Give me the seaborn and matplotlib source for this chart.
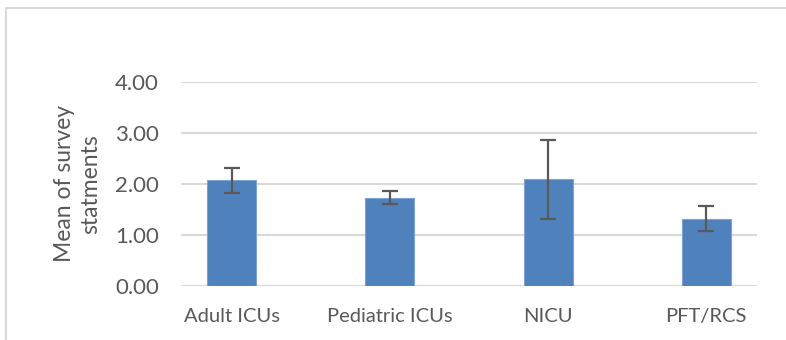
import matplotlib
matplotlib.use("Agg")
import matplotlib.pyplot as plt
import seaborn as sns
import pandas as pd
from matplotlib.lines import Line2D

categories = ["Adult ICUs", "Pediatric ICUs", "NICU", "PFT/RCS"]
means = [2.07, 1.73, 2.09, 1.32]
errors = [0.24, 0.13, 0.77, 0.24]
yticks = [0.0, 1.0, 2.0, 3.0, 4.0]
ylabel = "Mean of survey\nstatments"

sns.set_theme(style="white")
plt.rcParams['font.family'] = ['Lato', 'DejaVu Sans']

df = pd.DataFrame({"cat": categories, "mean": means, "err": errors})

fig = plt.figure(figsize=(7.86, 3.40), dpi=100)
ax = fig.add_axes([181/786, 54/340, 576/786, 204/340])

sns.barplot(data=df, x="cat", y="mean", ax=ax, color="#4F81BD", saturation=1,
            width=0.31, edgecolor="#7FA3D3", linewidth=0.8, errorbar=None, zorder=3)
ax.errorbar(x=list(range(len(categories))), y=df["mean"], yerr=df["err"], fmt="none",
            ecolor="#595959", elinewidth=1.6, capsize=6, capthick=1.6, zorder=4)

ax.set_ylim(0, 4)
ax.set_yticks(yticks)
ax.set_yticklabels([f"{v:.2f}" for v in yticks])
ax.yaxis.grid(True, color="#D9D9D9", linewidth=1.5, zorder=0)
ax.set_axisbelow(True)
for s in ax.spines.values():
    s.set_visible(False)
ax.tick_params(axis="y", length=0, pad=16, labelsize=16, labelcolor="#595959")
ax.tick_params(axis="x", length=0, pad=16, labelsize=14.5, labelcolor="#595959")
ax.set_xlabel("")
ax.set_ylabel(ylabel, fontsize=16.5, color="#595959", labelpad=10, linespacing=1.3)

# chart frame (top and left edges visible in the crop)
fig.add_artist(Line2D([6/786, 1.0], [1 - 7.5/340, 1 - 7.5/340], transform=fig.transFigure,
                      color="#D9D9D9", linewidth=1.5))
fig.add_artist(Line2D([6/786, 6/786], [0, 1 - 7.5/340], transform=fig.transFigure,
                      color="#D9D9D9", linewidth=1.5))

fig.savefig("out.png", dpi=100, facecolor="white")
